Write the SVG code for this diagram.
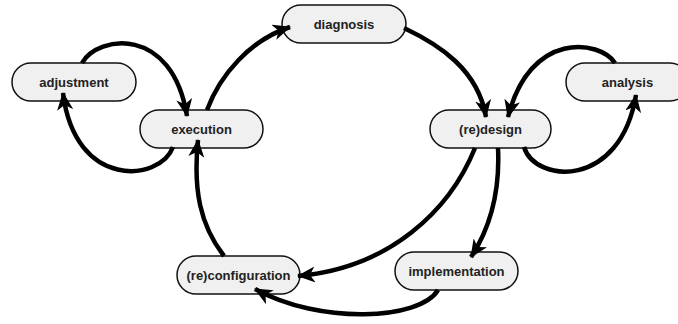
<svg xmlns="http://www.w3.org/2000/svg" width="678" height="324" viewBox="0 0 678 324">
<style>
.node rect{fill:#f0f0f0;stroke:#111;stroke-width:1.5}
.node text{font-family:"Liberation Sans",Arial,sans-serif;font-weight:bold;font-size:13px;fill:#222;text-anchor:middle}
.edge{fill:none;stroke:#000;stroke-width:4.5;marker-end:url(#arr)}
</style>
<defs>
<marker id="arr" markerUnits="userSpaceOnUse" markerWidth="18" markerHeight="16" viewBox="0 0 18 16" refX="17" refY="8" orient="auto">
<path d="M0,0 L18,8 L0,16 L5,8 z" fill="#000"/>
</marker>
</defs>
<g id="adjustment" class="node"><rect x="12" y="63" width="124" height="38" rx="19"/><text x="74" y="87">adjustment</text></g>
<g id="execution" class="node"><rect x="140" y="110" width="123" height="38" rx="19"/><text x="201.5" y="134">execution</text></g>
<g id="diagnosis" class="node"><rect x="282" y="5" width="124" height="38" rx="19"/><text x="344" y="29">diagnosis</text></g>
<g id="analysis" class="node"><rect x="566" y="63" width="123" height="38" rx="19"/><text x="627.5" y="87">analysis</text></g>
<g id="redesign" class="node"><rect x="430" y="110" width="121" height="38" rx="19"/><text x="490.5" y="134">(re)design</text></g>
<g id="reconfiguration" class="node"><rect x="177" y="256" width="123" height="38" rx="19"/><text x="238.5" y="280">(re)configuration</text></g>
<g id="implementation" class="node"><rect x="395" y="252" width="123" height="38" rx="19"/><text x="456.5" y="276">implementation</text></g>
<g id="connectors">
<path class="edge" d="M82,63 C98,35 172,25 187,116"/>
<path class="edge" d="M173,147 C160,182 75,190 63,93"/>
<path class="edge" d="M207,110 C220,75 250,40 290,27"/>
<path class="edge" d="M404,28 C440,45 478,70 486,117"/>
<path class="edge" d="M615,63 C600,40 530,30 508,117"/>
<path class="edge" d="M524,147 C535,183 620,190 636,95"/>
<path class="edge" d="M475,148 C450,210 390,268 298,276"/>
<path class="edge" d="M498,148 C500,190 492,225 471,257"/>
<path class="edge" d="M438,290 C420,320 320,325 255,289"/>
<path class="edge" d="M224,256 C200,225 193,190 198,140"/>
</g>
</svg>
